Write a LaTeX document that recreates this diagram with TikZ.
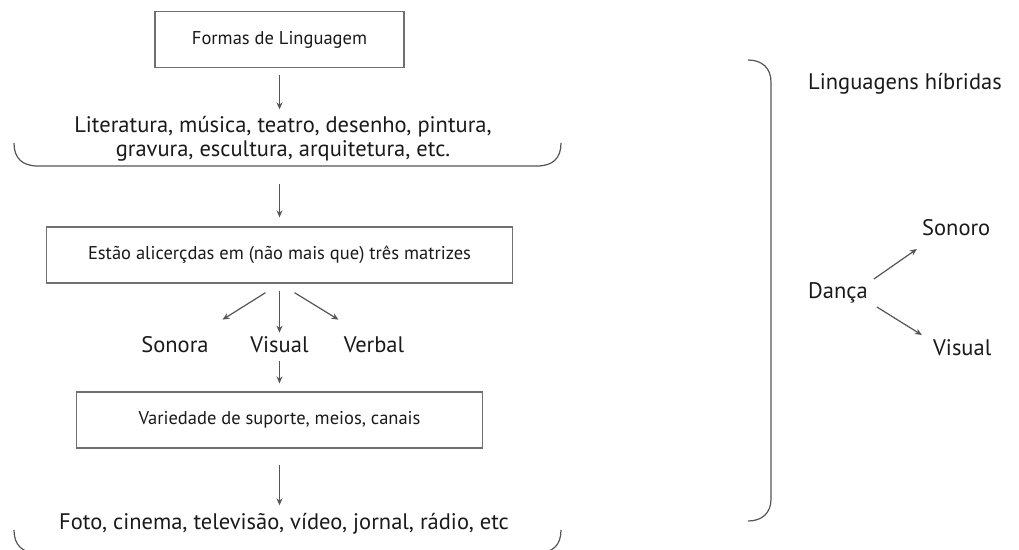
\documentclass[tikz,border=0pt]{standalone}
\usepackage{fontspec}
\setmainfont{PT Sans}
\usetikzlibrary{arrows.meta}
\definecolor{linegray}{HTML}{555555}
\definecolor{boxgray}{HTML}{707070}
\definecolor{ink}{HTML}{1A1A1A}
\begin{document}
\begin{tikzpicture}[x=1pt,y=-1pt,
  line/.style={draw=linegray, line width=1.2pt},
  arr/.style={line, -{Stealth[length=7pt,width=6pt]}},
  box/.style={draw=boxgray, line width=1.3pt, minimum height=56pt, inner sep=0pt,
              text=ink, font=\fontsize{18.5}{22}\selectfont},
  lbl/.style={inner sep=0pt, text=ink, font=\fontsize{22.5}{24}\selectfont},
]
\useasboundingbox (0,0) rectangle (1019,549);
\clip (0,0) rectangle (1019,549);

% ---- left column: from forms of language to media ----
\node[box, minimum width=249pt] (forms) at (279.5,39.5) {Formas de Linguagem};
\node[lbl, align=center] (arts) at (283,139)
  {Literatura, música, teatro, desenho, pintura,\\gravura, escultura, arquitetura, etc.};
\draw[line] (14,143) .. controls (14,158) and (22,166) .. (38,166)
  -- (279.5,166) coordinate (artsbase)
  -- (537,166) .. controls (553,166) and (561,158) .. (561,143);

\node[box, minimum width=466pt] (matrices) at (279.5,255)
  {Estão alicerçdas em (não mais que) três matrizes};
\node[lbl] (sonora) at (175,345) {Sonora};
\node[lbl] (visualA) at (279.5,345) {Visual};
\node[lbl] (verbal) at (374,345) {Verbal};

\node[box, minimum width=406pt] (supports) at (279.5,420) {Variedade de suporte, meios, canais};
\node[lbl] (media) at (284,524) {Foto, cinema, televisão, vídeo, jornal, rádio, etc};
\draw[line] (14,530) .. controls (14,545) and (22,553) .. (38,553)
  -- (537,553) .. controls (553,553) and (561,545) .. (561,530);

\draw[arr, shorten <=7pt, shorten >=7pt] (forms.south) -- (forms.south |- arts.north);
\draw[arr, shorten <=18pt, shorten >=9pt] (artsbase) -- (artsbase |- matrices.north);
\draw[arr] (matrices.south) ++(-14,9) -- ++(-43,27);
\draw[arr, shorten <=7pt, shorten >=4pt] (matrices.south) -- (matrices.south |- visualA.north);
\draw[arr] (matrices.south) ++(15,9) -- ++(44,27);
\draw[arr, shorten <=8pt, shorten >=8pt] (visualA.south) -- (visualA.south |- supports.north);
\draw[arr, shorten <=16pt, shorten >=8pt] (supports.south) -- (supports.south |- media.north);

% ---- right column: hybrid languages ----
\draw[line] (748,60) .. controls (762,60) and (771,68) .. (771,82)
  -- (771,499) .. controls (771,513) and (762,521) .. (748,521);
\node[lbl, anchor=west] (hybrid) at (808,84) {Linguagens híbridas};
\node[lbl, anchor=west] (danca) at (808,293) {Dança};
\node[lbl, anchor=west] (sonoro) at (922,228) {Sonoro};
\node[lbl, anchor=west] (visualB) at (933,348) {Visual};
\draw[arr] (danca.east) ++(6,-14) -- ++(43,-30);
\draw[arr] (danca.east) ++(9,14) -- ++(45,28);
\end{tikzpicture}
\end{document}
